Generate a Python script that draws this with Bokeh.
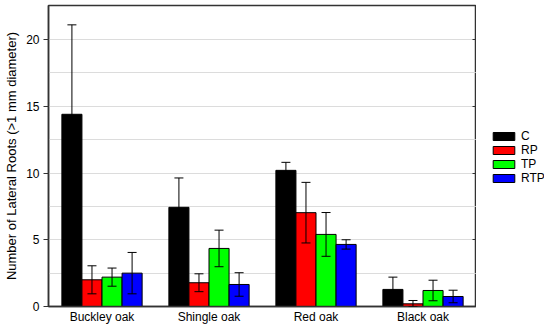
from bokeh.plotting import figure
from bokeh.layouts import row
from bokeh.models import (ColumnDataSource, FactorRange, Range1d, Whisker, TeeHead,
                          LinearAxis, Legend, LegendItem, FixedTicker)
from bokeh.transform import dodge
from bokeh.embed import file_html
from bokeh.resources import INLINE

species = ["Buckley oak", "Shingle oak", "Red oak", "Black oak"]
treatments = ["C", "RP", "TP", "RTP"]
colors = ["#000000", "#ff0000", "#00ff00", "#0000ff"]

means_C = [14.4, 7.43, 10.2, 1.28]
err_C = [6.7, 2.2, 0.6, 0.92]
means_RP = [2.0, 1.78, 7.03, 0.2]
err_RP = [1.05, 0.67, 2.27, 0.25]
means_TP = [2.2, 4.35, 5.4, 1.2]
err_TP = [0.68, 1.37, 1.64, 0.77]
means_RTP = [2.5, 1.65, 4.65, 0.75]
err_RTP = [1.55, 0.88, 0.35, 0.47]

y_ticks = [0, 5, 10, 15, 20]
grid_ticks = [2.5, 5, 7.5, 10, 12.5, 15, 17.5, 20]

series_means = [means_C, means_RP, means_TP, means_RTP]
series_errs = [err_C, err_RP, err_TP, err_RTP]

FONT = "Liberation Sans"

p = figure(frame_width=428, frame_height=301, x_range=FactorRange(*species, range_padding=0),
           y_range=Range1d(0, 22.55), output_backend="svg", toolbar_location=None,
           min_border_top=5, min_border_left=48, min_border_bottom=23, min_border_right=0)

p.outline_line_color = "#333333"
p.outline_line_width = 1.5
p.xgrid.grid_line_color = None
p.ygrid.ticker = FixedTicker(ticks=grid_ticks)
p.ygrid.grid_line_color = "#dcdcdc"
p.ygrid.grid_line_width = 1

bar_w = 0.1875
offsets = [-0.28125, -0.09375, 0.09375, 0.28125]
for t, c, m, e, off in zip(treatments, colors, series_means, series_errs, offsets):
    src = ColumnDataSource(dict(cat=species, top=m,
                                upper=[a + b for a, b in zip(m, e)],
                                lower=[max(a - b, 0) for a, b in zip(m, e)]))
    p.vbar(x=dodge("cat", off, range=p.x_range), top="top", width=bar_w, source=src,
           fill_color=c, line_color="black", line_width=1)
    w = Whisker(base=dodge("cat", off, range=p.x_range), upper="upper", lower="lower",
                source=src, line_color="black", line_width=1, level="overlay",
                upper_head=TeeHead(size=9, line_color="black", line_width=1),
                lower_head=TeeHead(size=9, line_color="black", line_width=1))
    p.add_layout(w)

# axes
p.yaxis.ticker = FixedTicker(ticks=y_ticks)
p.yaxis.minor_tick_line_color = None
p.yaxis.major_tick_out = 5
p.yaxis.major_tick_in = 0
p.yaxis.axis_line_color = "#333333"
p.yaxis.axis_line_width = 1.5
p.yaxis.major_tick_line_color = "#333333"
p.yaxis.major_label_text_font = FONT
p.yaxis.major_label_text_font_size = "12px"
p.yaxis.major_label_text_color = "black"
p.yaxis.major_label_standoff = 4
p.yaxis.axis_label = "Number of Lateral Roots (>1 mm diameter)"
p.yaxis.axis_label_text_font = FONT
p.yaxis.axis_label_text_font_size = "13px"
p.yaxis.axis_label_text_font_style = "normal"
p.yaxis.axis_label_text_color = "black"
p.yaxis.axis_label_standoff = 4

p.xaxis.major_tick_line_color = None
p.xaxis.major_tick_out = 0
p.xaxis.major_tick_in = 0
p.xaxis.minor_tick_line_color = None
p.xaxis.axis_line_color = "#333333"
p.xaxis.axis_line_width = 1.5
p.xaxis.major_label_text_font = FONT
p.xaxis.major_label_text_font_size = "12px"
p.xaxis.major_label_text_color = "black"
p.xaxis.major_label_standoff = 3

right = LinearAxis(ticker=FixedTicker(ticks=y_ticks),
                   major_label_overrides={t: "" for t in y_ticks})
right.major_label_standoff = 0
right.major_tick_in = 4
right.major_tick_out = 0
right.minor_tick_line_color = None
right.axis_line_color = "#333333"
right.axis_line_width = 1.5
right.major_tick_line_color = "#333333"
p.add_layout(right, "right")

# legend figure
lf = figure(width=68, height=329, output_backend="svg", toolbar_location=None,
            x_range=Range1d(0, 1), y_range=Range1d(0, 1),
            min_border=0, outline_line_color=None)
lf.axis.visible = False
lf.grid.visible = False
items = []
for t, c in zip(treatments, colors):
    r = lf.vbar(x=[5], top=[0.5], width=0.1, fill_color=c, line_color="black", line_width=1)
    items.append(LegendItem(label=t, renderers=[r]))
legend = Legend(items=items, location=(14, 121), border_line_color=None,
                background_fill_alpha=0, glyph_width=27, glyph_height=10,
                label_height=10, spacing=0, padding=0, margin=0,
                label_text_font=FONT, label_text_font_size="12px",
                label_standoff=4, label_text_color="black")
lf.add_layout(legend)

layout = row(p, lf)
open("out.html", "w").write(file_html(layout, INLINE))
